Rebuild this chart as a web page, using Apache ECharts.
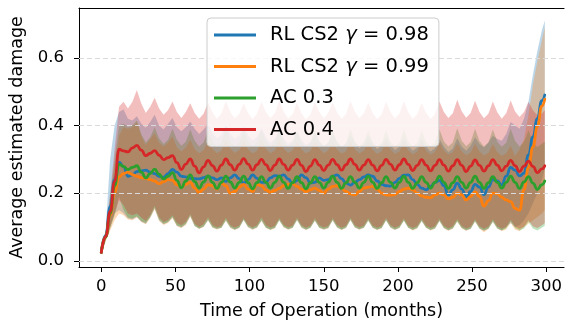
<!DOCTYPE html>
<html><head><meta charset="utf-8">
<script src="https://cdn.jsdelivr.net/npm/echarts@6/dist/echarts.min.js"></script>
<style>html,body{margin:0;padding:0;background:#fff}#c{width:565px;height:331px}</style>
</head><body><div id="c"></div>
<script>
const months = [0,3,6,9,12,15,18,21,24,27,30,33,36,39,42,45,48,51,54,57,60,63,66,69,72,75,78,81,84,87,90,93,96,99,102,105,108,111,114,117,120,123,126,129,132,135,138,141,144,147,150,153,156,159,162,165,168,171,174,177,180,183,186,189,192,195,198,201,204,207,210,213,216,219,222,225,228,231,234,237,240,243,246,249,252,255,258,261,264,267,270,273,276,279,282,285,288,291,294,297,299];
const seriesNames = ['RL CS2 γ = 0.98','RL CS2 γ = 0.99','AC 0.3','AC 0.4'];
const xTicks = [0,50,100,150,200,250,300];
const yTicks = [0,0.2,0.4,0.6];

const blueMean = [.025,.075,.160,.240, .292,.278,.250,.254, .264,.266,.268,.262, .258,.250,.247,.258, .270,.262,.250,.248, .244,.243,.242,.246, .250,.245,.240,.245, .235,.245,.254,.243, .230,.240,.254,.244, .232,.232,.245,.252, .250,.254,.242,.228, .238,.254,.246,.230, .232,.245,.238,.240, .250,.254,.243,.230, .224,.232,.240,.248, .254,.250,.236,.226, .222,.221,.232,.244, .253,.254,.240,.226, .215,.210,.220,.232, .238,.222,.195,.210, .230,.212,.188,.205, .226,.218,.196,.218, .240,.236,.225,.250, .276,.268,.251,.259, .313,.366,.420,.473, .490];
const orangeMean = [.025,.072,.135,.200, .248,.258,.262,.255, .250,.246,.244,.240, .236,.228,.234,.240, .238,.225,.218,.226, .232,.215,.202,.212, .225,.222,.212,.230, .222,.200,.205,.218, .226,.212,.205,.226, .222,.210,.203,.208, .214,.222,.226,.228, .220,.212,.204,.210, .215,.208,.200,.212, .220,.222,.214,.205, .198,.195,.205,.215, .218,.220,.212,.200, .195,.194,.196,.205, .212,.215,.210,.200, .192,.188,.187,.195, .200,.195,.183,.188, .200,.195,.180,.190, .204,.190,.162,.178, .200,.198,.188,.180, .175,.155,.150,.210, .276,.337,.397,.457, .478];
const greenMean = [.025,.071,.140,.222, .286,.279,.270,.276, .281,.262,.245,.258, .271,.256,.242,.250, .261,.238,.216,.236, .254,.234,.215,.233, .251,.232,.214,.232, .250,.233,.215,.232, .250,.231,.213,.231, .249,.232,.215,.232, .250,.232,.214,.231, .249,.231,.213,.231, .249,.232,.215,.232, .250,.232,.214,.231, .249,.232,.215,.232, .250,.232,.214,.231, .249,.232,.215,.232, .250,.232,.214,.231, .249,.232,.215,.232, .250,.232,.214,.231, .249,.232,.215,.232, .250,.232,.214,.231, .249,.232,.215,.232, .250,.232,.214,.233, .249,.230,.211,.225, .236];
const redMean = [.025,.072,.146,.235, .330,.325,.322,.334, .341,.327,.311,.318, .326,.312,.299,.305, .311,.290,.270,.286, .301,.280,.260,.278, .297,.281,.265,.283, .301,.284,.268,.285, .302,.286,.268,.284, .300,.284,.267,.283, .301,.285,.268,.283, .300,.282,.264,.280, .299,.283,.267,.283, .300,.284,.268,.284, .301,.285,.268,.283, .299,.283,.266,.282, .300,.285,.268,.284, .301,.285,.267,.282, .299,.283,.266,.282, .299,.283,.265,.281, .299,.282,.264,.280, .298,.282,.265,.281, .299,.283,.266,.280, .297,.281,.264,.280, .295,.279,.261,.272, .281];

const blueLow = [.020,.062,.100,.140, .150,.140,.125,.122, .130,.116,.110,.128, .155,.120,.108,.114, .128,.104,.098,.108, .132,.103,.095,.101, .120,.099,.094,.098, .119,.099,.092,.098, .121,.100,.093,.099, .119,.098,.092,.097, .120,.100,.093,.098, .121,.099,.092,.098, .119,.098,.093,.097, .120,.099,.092,.098, .121,.099,.093,.098, .119,.098,.092,.097, .120,.099,.092,.098, .119,.098,.091,.097, .118,.098,.091,.096, .118,.097,.090,.096, .117,.097,.090,.095, .117,.096,.089,.095, .116,.096,.090,.100, .112,.100,.105,.120, .140,.170,.200,.240, .270];
const blueHigh = [.030,.095,.300,.400, .440,.447,.420,.415, .427,.405,.393,.410, .432,.400,.388,.405, .422,.395,.383,.395, .412,.390,.375,.388, .405,.378,.362,.372, .402,.375,.360,.370, .398,.372,.356,.366, .392,.366,.350,.360, .388,.362,.346,.356, .384,.358,.343,.352, .380,.355,.340,.350, .376,.352,.336,.346, .372,.348,.333,.342, .370,.345,.330,.340, .366,.342,.327,.337, .364,.340,.325,.335, .362,.338,.323,.333, .360,.337,.322,.332, .362,.338,.325,.340, .365,.345,.335,.350, .370,.360,.355,.375, .410,.400,.390,.420, .470,.550,.620,.680, .710];
const orangeLow = [.020,.058,.090,.120, .140,.135,.122,.120, .128,.115,.108,.126, .152,.118,.106,.112, .126,.102,.097,.106, .130,.102,.094,.100, .119,.098,.093,.097, .118,.097,.091,.097, .120,.099,.092,.098, .118,.097,.091,.096, .119,.099,.092,.097, .120,.098,.091,.097, .118,.097,.092,.096, .119,.098,.091,.097, .120,.098,.092,.097, .118,.097,.091,.096, .119,.098,.091,.097, .118,.097,.090,.096, .117,.097,.090,.095, .117,.096,.089,.095, .116,.096,.089,.094, .116,.095,.085,.094, .115,.095,.088,.093, .112,.092,.088,.100, .110,.120,.130,.140, .150];
const orangeHigh = [.030,.085,.180,.280, .370,.395,.390,.395, .410,.370,.343,.360, .378,.350,.338,.350, .368,.335,.323,.335, .358,.330,.318,.328, .354,.331,.318,.326, .356,.332,.319,.327, .352,.330,.317,.325, .355,.331,.318,.326, .357,.332,.319,.327, .353,.330,.317,.325, .355,.331,.318,.326, .352,.329,.317,.324, .354,.330,.317,.325, .351,.328,.316,.324, .353,.329,.316,.324, .350,.327,.315,.323, .349,.326,.314,.322, .350,.327,.314,.321, .347,.324,.312,.320, .346,.323,.311,.319, .345,.322,.310,.318, .340,.310,.330,.360, .430,.520,.590,.650, .690];
const greenLow = [.020,.060,.095,.135, .190,.150,.128,.125, .132,.118,.112,.130, .158,.122,.110,.115, .130,.105,.100,.110, .135,.104,.096,.102, .122,.100,.095,.099, .121,.100,.093,.099, .122,.101,.094,.100, .120,.099,.093,.098, .121,.101,.094,.099, .122,.100,.093,.099, .120,.099,.094,.098, .121,.100,.093,.099, .122,.100,.094,.099, .120,.099,.093,.098, .121,.100,.093,.099, .120,.099,.092,.098, .119,.099,.092,.097, .119,.098,.091,.097, .118,.098,.091,.096, .118,.097,.090,.096, .117,.097,.090,.096, .117,.097,.090,.096, .116,.096,.090,.098, .104];
const greenHigh = [.030,.085,.190,.300, .400,.405,.395,.400, .415,.375,.350,.365, .395,.362,.345,.358, .390,.358,.340,.352, .388,.355,.338,.350, .385,.352,.338,.350, .388,.353,.337,.349, .384,.351,.338,.350, .387,.353,.339,.351, .389,.352,.337,.349, .385,.350,.336,.348, .388,.353,.338,.350, .386,.352,.337,.349, .390,.354,.339,.351, .385,.351,.337,.349, .387,.352,.338,.350, .389,.353,.337,.349, .386,.352,.338,.350, .388,.353,.338,.350, .392,.355,.339,.351, .390,.354,.338,.350, .388,.352,.337,.349, .390,.354,.338,.352, .386,.352,.336,.346, .352];
const redLow = [.020,.062,.100,.140, .180,.165,.140,.135, .140,.128,.118,.135, .162,.128,.115,.120, .135,.112,.105,.115, .138,.110,.100,.108, .128,.106,.099,.104, .127,.105,.098,.104, .126,.106,.099,.105, .128,.105,.098,.103, .126,.106,.099,.104, .127,.105,.098,.104, .125,.105,.099,.103, .126,.106,.098,.104, .127,.105,.099,.104, .125,.104,.098,.103, .126,.105,.098,.104, .125,.104,.097,.103, .124,.104,.097,.102, .124,.103,.096,.102, .123,.103,.096,.101, .122,.102,.095,.101, .122,.102,.095,.100, .121,.101,.095,.101, .120,.102,.097,.105, .112];
const redHigh = [.030,.085,.200,.330, .455,.470,.450,.470, .505,.465,.437,.455, .482,.450,.432,.445, .471,.440,.422,.440, .466,.437,.420,.435, .468,.438,.420,.436, .472,.440,.421,.434, .466,.437,.419,.435, .470,.440,.422,.436, .474,.441,.421,.434, .467,.436,.418,.433, .471,.440,.422,.437, .469,.438,.420,.434, .473,.441,.422,.436, .468,.437,.419,.433, .470,.440,.421,.435, .472,.439,.420,.434, .467,.437,.419,.434, .471,.440,.422,.436, .476,.442,.423,.437, .473,.440,.421,.435, .471,.439,.420,.436, .474,.441,.425,.440, .470,.445,.430,.435, .445];

const colors = ['#1f77b4','#ff7f0e','#2ca02c','#d62728'];
const fills = ['rgba(31,119,180,0.3)','rgba(255,127,14,0.3)','rgba(44,160,44,0.3)','rgba(214,39,40,0.3)'];
const means = [blueMean, orangeMean, greenMean, redMean];
const lows = [blueLow, orangeLow, greenLow, redLow];
const highs = [blueHigh, orangeHigh, greenHigh, redHigh];
const FONT = 'DejaVu Sans';

function bandSeries(k) {
  const lo = lows[k], hi = highs[k];
  return {
    type: 'custom', silent: true, z: 1, animation: false,
    data: [[0, 0]], encode: {x: 0, y: 1},
    renderItem: function (params, api) {
      const pts = [];
      for (let i = 0; i < months.length; i++) pts.push(api.coord([months[i], hi[i]]));
      for (let i = months.length - 1; i >= 0; i--) pts.push(api.coord([months[i], lo[i]]));
      return {type: 'polygon', shape: {points: pts}, style: {fill: fills[k], stroke: null}};
    }
  };
}
function lineSeries(k) {
  return {
    type: 'line', name: seriesNames[k], z: 3, animation: false,
    data: months.map((m, i) => [m, means[k][i]]),
    showSymbol: false, symbol: 'none', smooth: 0.5, smoothMonotone: 'x',
    lineStyle: {color: colors[k], width: 2.8, cap: 'round', join: 'round'}, itemStyle: {color: colors[k]}
  };
}

const series = [];
for (let k = 0; k < 4; k++) series.push(bandSeries(k));
series.push({
  type: 'line', data: [], z: 2, silent: true, animation: false,
  markLine: {silent: true, symbol: ['none', 'none'], animation: false, label: {show: false},
    lineStyle: {color: '#dadada', type: [5, 3], width: 1},
    data: yTicks.map(v => ({yAxis: v}))}
});
for (let k = 0; k < 4; k++) series.push(lineSeries(k));

const chart = echarts.init(document.getElementById('c'), null, {renderer: 'canvas'});
chart.setOption({
  animation: false,
  backgroundColor: '#ffffff',
  grid: {left: 79, right: 0, top: 8, bottom: 64, containLabel: false},
  xAxis: [{
    type: 'value', min: -15, max: 312, position: 'bottom',
    axisLine: {show: true, onZero: false, lineStyle: {color: '#000', width: 1}},
    axisTick: {show: true, inside: false, length: 5, lineStyle: {color: '#000', width: 1}, customValues: xTicks},
    axisLabel: {show: true, customValues: xTicks, margin: 11, color: '#000', fontSize: 16.5, fontFamily: FONT},
    splitLine: {show: false},
    name: 'Time of Operation (months)', nameLocation: 'middle', nameGap: 35,
    nameTextStyle: {color: '#000', fontSize: 17.5, fontFamily: FONT}
  }, {
    type: 'value', min: -15, max: 312, position: 'top',
    axisLine: {show: true, onZero: false, lineStyle: {color: '#000', width: 1}},
    axisTick: {show: false}, axisLabel: {show: false}, splitLine: {show: false}
  }],
  yAxis: {
    type: 'value', min: -0.018, max: 0.747,
    axisLine: {show: true, onZero: false, lineStyle: {color: '#000', width: 1}},
    axisTick: {show: true, inside: false, length: 5, lineStyle: {color: '#000', width: 1}, customValues: yTicks},
    axisLabel: {show: true, customValues: yTicks, margin: 15, color: '#000', fontSize: 16.5, fontFamily: FONT,
      formatter: v => v.toFixed(1)},
    splitLine: {show: false},
    name: 'Average estimated damage', nameLocation: 'middle', nameGap: 48,
    nameTextStyle: {color: '#000', fontSize: 17.5, fontFamily: FONT}
  },
  legend: {
    orient: 'vertical', left: 207, top: 18, z: 10,
    itemWidth: 42, itemHeight: 3, itemGap: 9.5,
    data: seriesNames.map(n => ({name: n, icon: 'rect'})),
    backgroundColor: 'rgba(255,255,255,0.8)', borderColor: '#cccccc', borderWidth: 1, borderRadius: 4,
    padding: [6, 10, 6, 7],
    selectedMode: false,
    textStyle: {fontFamily: FONT, fontSize: 19.5, color: '#000', lineHeight: 22,
      rich: {
        s: {width: 9},
        t: {fontFamily: FONT, fontSize: 19.5, color: '#000', lineHeight: 22},
        g: {fontFamily: FONT, fontSize: 19.5, color: '#000', fontStyle: 'italic', lineHeight: 22}
      }},
    formatter: function (name) {
      const i = name.indexOf('γ');
      if (i >= 0) return '{s|}{t|' + name.slice(0, i) + '}{g|γ}{t|' + name.slice(i + 1) + '}';
      return '{s|}{t|' + name + '}';
    }
  },
  series: series
});
</script>
</body></html>
